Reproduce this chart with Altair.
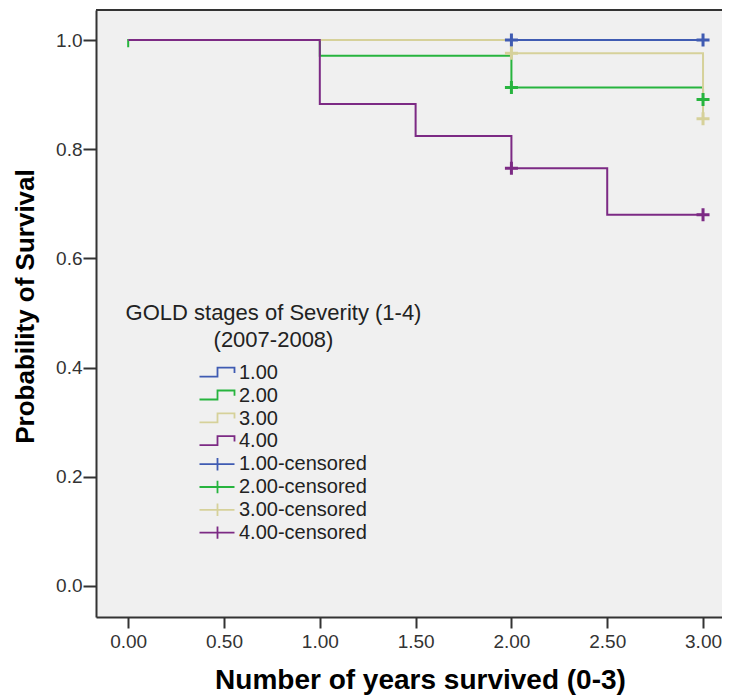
import altair as alt
import pandas as pd

# ---------------- values ----------------
group_labels = ["1.00", "2.00", "3.00", "4.00"]
group_colors = ["#3f5bb2", "#27b43e", "#d6d19a", "#7c2a84"]

# Kaplan-Meier step points: time (years) and survival probability
g1_time = [0, 3]
g1_surv = [1.0, 1.0]
g2_time = [0, 0, 1, 2, 3]
g2_surv = [0.987, 1.0, 0.971, 0.913, 0.891]
g3_time = [0, 2, 3]
g3_surv = [1.0, 0.976, 0.856]
g4_time = [0, 1, 1.5, 2, 2.5, 3]
g4_surv = [1.0, 0.883, 0.824, 0.765, 0.680, 0.680]

# censored observations
c1_time = [2, 3]
c1_surv = [1.0, 1.0]
c2_time = [2, 3]
c2_surv = [0.913, 0.891]
c3_time = [2, 3]
c3_surv = [0.976, 0.856]
c4_time = [2, 3]
c4_surv = [0.765, 0.680]

x_ticks = [0, 0.5, 1, 1.5, 2, 2.5, 3]
y_ticks = [0, 0.2, 0.4, 0.6, 0.8, 1.0]

legend_title_lines = ["GOLD stages of Severity (1-4)", "(2007-2008)"]
x_title = "Number of years survived (0-3)"
y_title = "Probability of Survival"

# ---------------- tables ----------------
censored_labels = [g + "-censored" for g in group_labels]
all_entries = group_labels + censored_labels

curves = [(g1_time, g1_surv), (g2_time, g2_surv), (g3_time, g3_surv), (g4_time, g4_surv)]
rows = []
for lab, (ts, ss) in zip(group_labels, curves):
    for i, (t, s) in enumerate(zip(ts, ss)):
        rows.append({"entry": lab, "time": t, "surv": s, "idx": i})
line_df = pd.DataFrame(rows)

cens = [(c1_time, c1_surv), (c2_time, c2_surv), (c3_time, c3_surv), (c4_time, c4_surv)]
rows = []
for lab, (ts, ss) in zip(censored_labels, cens):
    for t, s in zip(ts, ss):
        rows.append({"entry": lab, "time": t, "surv": s})
cens_df = pd.DataFrame(rows)

legend_df = pd.DataFrame({"entry": all_entries})

# ---------------- styling ----------------
FONT = "Liberation Sans"
W, H = 626, 607

x_scale = alt.Scale(domain=[-0.168, 3.099], nice=False, zero=False)
y_scale = alt.Scale(domain=[-0.0568, 1.055], nice=False, zero=False)
color_scale = alt.Scale(domain=all_entries, range=group_colors + group_colors)

step_path = "M-17.5,3.7L0.5,3.7L0.5,-5.3L17.5,-5.3L17.5,0"
cross_path = "M-17.5,0L17.5,0M0.5,-6.2L0.5,6.2"
shape_scale = alt.Scale(domain=all_entries, range=[step_path] * 4 + [cross_path] * 4)

x_axis = alt.Axis(
    title=x_title, values=x_ticks, format=".2f", grid=False,
    labelFont=FONT, labelFontSize=19, labelColor="#333", labelPadding=4,
    tickColor="#333", tickWidth=2, tickSize=11,
    domainColor="#333", domainWidth=2,
    titleFont=FONT, titleFontSize=28, titleFontWeight="bold", titleColor="#000",
    titleX=324, titleY=71, titleAlign="center", titleBaseline="alphabetic",
)
y_axis = alt.Axis(
    title=y_title, values=y_ticks, format=".1f", grid=False,
    labelFont=FONT, labelFontSize=19, labelColor="#333", labelPadding=1,
    tickColor="#333", tickWidth=2, tickSize=13,
    domainColor="#333", domainWidth=2,
    titleFont=FONT, titleFontSize=26, titleFontWeight="bold", titleColor="#000",
    titleAngle=270, titleX=-71, titleY=296, titleAlign="center", titleBaseline="middle",
)

X = alt.X("time:Q", scale=x_scale, axis=x_axis)
Y = alt.Y("surv:Q", scale=y_scale, axis=y_axis)

legend_kw = dict(
    title=None, orient="none", legendX=111, legendY=353, padding=0,
    rowPadding=2.8, labelFont=FONT, labelFontSize=20, labelColor="#222",
    labelOffset=12, symbolSize=4, symbolStrokeWidth=1.8, symbolOpacity=1,
    symbolFillColor="transparent",
)
legend_layer = alt.Chart(legend_df).mark_point(filled=False, opacity=0, size=4).encode(
    x=alt.value(0), y=alt.value(0),
    color=alt.Color("entry:N", scale=color_scale, legend=alt.Legend(**legend_kw)),
    shape=alt.Shape("entry:N", scale=shape_scale, legend=alt.Legend(**legend_kw)),
)

lines = alt.Chart(line_df).mark_line(interpolate="step-after", strokeWidth=2).encode(
    x=X, y=Y,
    color=alt.Color("entry:N", scale=color_scale, legend=None),
    detail="entry:N",
    order="idx:Q",
)

censored = alt.Chart(cens_df).mark_point(
    shape="M-1,0L1,0M0,-1L0,1", filled=False, size=169, strokeWidth=3, opacity=1
).encode(
    x=X, y=Y,
    color=alt.Color("entry:N", scale=color_scale, legend=None),
)

legend_title = alt.Chart(alt.Data(values=[{"t": "\n".join(legend_title_lines)}])).mark_text(
    align="center", baseline="alphabetic", lineBreak="\n", lineHeight=27,
    font=FONT, fontSize=22, color="#222",
).encode(text="t:N", x=alt.value(177.5), y=alt.value(309.5))

top_border = alt.Chart(alt.Data(values=[{}])).mark_rule(color="#333", strokeWidth=2).encode(
    x=alt.value(0), x2=alt.value(W), y=alt.value(0)
)

chart = alt.layer(legend_layer, lines, censored, legend_title, top_border).resolve_legend(
    color="independent", shape="independent"
).properties(
    width=W, height=H,
    autosize=alt.AutoSizeParams(type="none"),
    padding={"left": 88, "top": 2, "right": 0, "bottom": 80},
    background="white",
).configure_view(fill="#f0f0f0", stroke="transparent")

chart.save("out.html", embed_options={"renderer": "svg", "actions": False})
